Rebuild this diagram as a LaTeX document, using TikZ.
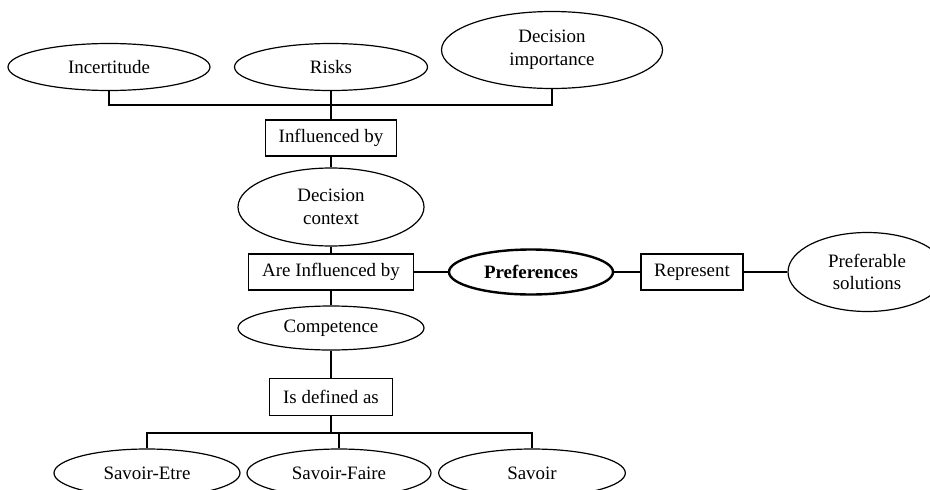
\documentclass[tikz,border=0pt]{standalone}
\usepackage{fontspec}
\setmainfont{Liberation Serif}
\usetikzlibrary{shapes.geometric}

\begin{document}
\begin{tikzpicture}[x=0.75pt,y=-0.75pt,
    concept/.style={ellipse,draw,line width=0.9pt,inner sep=0pt,align=center,
      font=\fontsize{14.2}{17}\selectfont},
    relation/.style={rectangle,draw,line width=0.9pt,inner sep=0pt,align=center,
      minimum height=27pt,font=\fontsize{14.2}{17}\selectfont},
    link/.style={line width=0.8pt}]
    \useasboundingbox (0,0) rectangle (930,489);
    \node [concept,minimum width=151.5pt,minimum height=35.25pt] (Incert) at (109,67) {Incertitude};
    \node [concept,minimum width=144.75pt,minimum height=35.25pt] (Risks) at (331,67) {Risks};
    \node [concept,minimum width=165.75pt,minimum height=57.75pt] (DecImp) at (552,50) {Decision\\importance};
    \node [relation,minimum width=98.25pt] (InflBy) at (331,138) {Influenced by};
    \node [concept,minimum width=139.5pt,minimum height=58.5pt] (DecCtx) at (331,207) {Decision\\context};
    \node [relation,minimum width=123.75pt] (AreInfl) at (331,272) {Are Influenced by};
    \node [concept,line width=1.8pt,minimum width=123pt,minimum height=33.75pt,
      font=\fontsize{14.2}{17}\selectfont\bfseries] (Pref) at (531,272) {Preferences};
    \node [relation,minimum width=76.5pt] (Repr) at (692,272) {Represent};
    \node [concept,minimum width=118.5pt,minimum height=59.25pt] (PrefSol) at (867,272) {Preferable\\solutions};
    \node [concept,minimum width=139.5pt,minimum height=33pt] (Comp) at (331,328) {Competence};
    \node [relation,minimum width=92.25pt,minimum height=27.75pt] (IsDef) at (331,397) {Is defined as};
    \node [concept,minimum width=139.5pt,minimum height=36pt] (SavEtre) at (147,473) {Savoir-Etre};
    \node [concept,minimum width=138pt,minimum height=36pt] (SavFaire) at (339,473) {Savoir-Faire};
    \node [concept,minimum width=140pt,minimum height=36pt] (Sav) at (532,473) {Savoir};
    \coordinate (TopBus) at (331,105);
    \coordinate (BotBus) at (331,433);
    \draw [link] (Incert.south) |- (TopBus) -| (DecImp.south);
    \draw [link] (Risks) -- (InflBy);
    \draw [link] (InflBy) -- (DecCtx);
    \draw [link] (DecCtx) -- (AreInfl);
    \draw [link] (AreInfl) -- (Comp);
    \draw [link] (AreInfl) -- (Pref);
    \draw [link] (Pref) -- (Repr);
    \draw [link] (Repr) -- (PrefSol);
    \draw [link] (Comp) -- (IsDef);
    \draw [link] (IsDef) -- (BotBus);
    \draw [link] (SavEtre.north) |- (BotBus) -| (Sav.north);
    \draw [link] (SavFaire.north) -- (SavFaire.north |- BotBus);
\end{tikzpicture}
\end{document}
